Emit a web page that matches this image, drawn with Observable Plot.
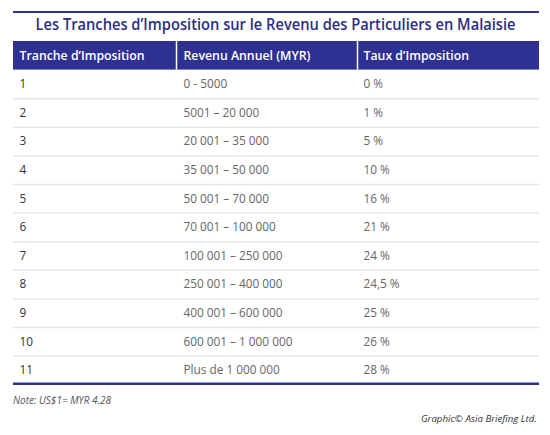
<!DOCTYPE html>
<html>
<head>
<meta charset="utf-8">
<script src="https://cdn.jsdelivr.net/npm/d3@7"></script>
<script src="https://cdn.jsdelivr.net/npm/@observablehq/plot@0.6"></script>
<style>
  html, body { margin: 0; padding: 0; background: #fff; }
  body { width: 550px; height: 435px; position: relative; overflow: hidden; font-family: "Open Sans", sans-serif; }
  #top { position: relative; height: 41px; }
  #topline { position: absolute; left: 13px; top: 11px; width: 526px; height: 2px; background: #2e3192; }
  #title { position: absolute; top: 14px; left: 0; width: 552px; text-align: center; white-space: nowrap;
           font-size: 15.5px; font-weight: 600; color: #2b2e85; line-height: 20px; }
  #title span, #credit span { display: inline-block; }
  #chart { position: relative; height: 346px; }
  #chart svg { display: block; }
  #foot { position: relative; height: 48px; }
  #note { position: absolute; left: 13px; top: 6px; font-size: 10px; font-style: italic; color: #555; white-space: nowrap; line-height: 14px; }
  #credit { position: absolute; right: 13px; top: 25px; font-size: 9.5px; font-style: italic; color: #333; white-space: nowrap; line-height: 14px; text-align: right; }
</style>
</head>
<body>
<div id="top"><div id="topline"></div><div id="title"><span>Les Tranches d’Imposition sur le Revenu des Particuliers en Malaisie</span></div></div>
<div id="chart"></div>
<div id="foot"><div id="note">Note: US$1= MYR 4.28</div><div id="credit"><span>Graphic© Asia Briefing Ltd.</span></div></div>
<script>
// ---- data ----
const headers = ["Tranche d’Imposition", "Revenu Annuel (MYR)", "Taux d’Imposition"];
const tranches = ["1", "2", "3", "4", "5", "6", "7", "8", "9", "10", "11"];
const revenus = ["0 - 5000", "5001 – 20 000", "20 001 – 35 000", "35 001 – 50 000", "50 001 – 70 000",
  "70 001 – 100 000", "100 001 – 250 000", "250 001 – 400 000", "400 001 – 600 000",
  "600 001 – 1 000 000", "Plus de 1 000 000"];
const taux = ["0 %", "1 %", "5 %", "10 %", "16 %", "21 %", "24 %", "24,5 %", "25 %", "26 %", "28 %"];

// ---- layout ----
const blue = "#2e3192";
const colEdges = [13, 176, 357, 539];
const pad = [6, 7, 6];
const nRows = tranches.length + 1; // header + rows
const rowH = 28.6;

const rows = tranches.map((t, i) => ({ row: i + 1, tranche: t, revenu: revenus[i], taux: taux[i] }));
const cols = headers.map((h, i) => ({ h, i }));

const chart = Plot.plot({
  width: 550,
  height: 346,
  margin: 0,
  x: { type: "linear", domain: [0, 550], range: [0, 550], axis: null },
  y: { type: "linear", domain: [0, nRows], range: [0, nRows * rowH], axis: null },
  style: { fontFamily: "Open Sans, sans-serif", background: "white" },
  marks: [
    // header band
    Plot.rect(cols, { x1: d => colEdges[d.i], x2: d => colEdges[d.i + 1], y1: 0, y2: 1, fill: blue }),
    Plot.ruleX(colEdges.slice(1, 3), { x: d => d, y1: 0, y2: 1, stroke: "white", strokeWidth: 1.5 }),
    Plot.text(cols, { x: d => colEdges[d.i] + pad[d.i], y: 0.5, text: d => d.h, textAnchor: "start",
      fill: "white", fontWeight: 600, fontSize: 12.3 }),
    // row separators
    Plot.ruleY(rows.slice(1), { y: d => d.row, x1: colEdges[0], x2: colEdges[3], stroke: "#e6e6e6", strokeWidth: 1.5 }),
    // body text
    Plot.text(rows, { x: colEdges[0] + pad[0], y: d => d.row + 0.5, text: "tranche", textAnchor: "start",
      fill: "#333333", fontSize: 11.8 }),
    Plot.text(rows, { x: colEdges[1] + pad[1], y: d => d.row + 0.5, text: "revenu", textAnchor: "start",
      fill: "#666666", fontSize: 11.8 }),
    Plot.text(rows, { x: colEdges[2] + pad[2], y: d => d.row + 0.5, text: "taux", textAnchor: "start",
      fill: "#666666", fontSize: 11.8 }),
    // bottom rule
    Plot.ruleY([nRows], { x1: colEdges[0], x2: colEdges[3], stroke: blue, strokeWidth: 2.5, dy: -1 })
  ]
});
document.getElementById("chart").appendChild(chart);

function fitWidth(span, target, origin) {
  const w = span.offsetWidth; // untransformed layout width
  if (w > 0) {
    span.style.transformOrigin = origin;
    span.style.transform = `scaleX(${target / w})`;
  }
}
function fits() {
  fitWidth(document.querySelector("#title span"), 480, "center");
  fitWidth(document.querySelector("#credit span"), 116, "right");
}
fits();
if (document.fonts && document.fonts.ready) document.fonts.ready.then(fits);
</script>
</body>
</html>
